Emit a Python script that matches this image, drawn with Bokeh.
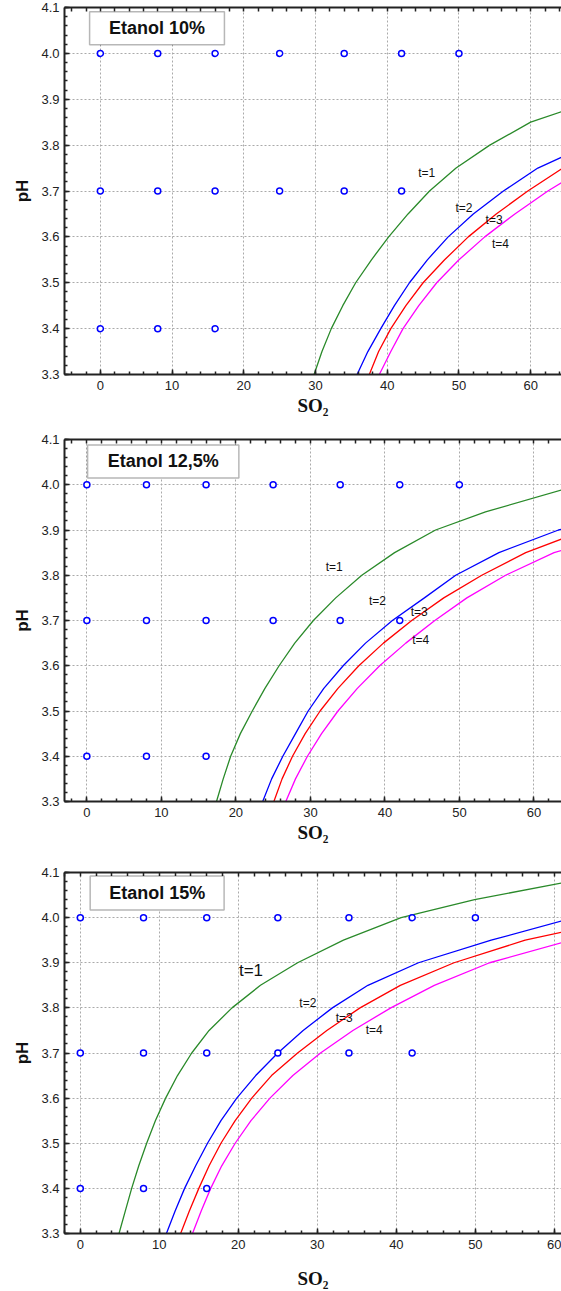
from bokeh.plotting import figure
from bokeh.layouts import column
from bokeh.models import (Range1d, FixedTicker, LinearAxis,
                          PrintfTickFormatter, BoxAnnotation, Label)
from bokeh.embed import file_html
from bokeh.resources import INLINE

# ---------------- data ----------------
titles = ["Etanol 10%", "Etanol 12,5%", "Etanol 15%"]
curve_names = ["t=1", "t=2", "t=3", "t=4"]
curve_colors = ["#2a8a2a", "#0000ff", "#ff0000", "#ff00ff"]

x_ticks = [0, 10, 20, 30, 40, 50, 60]
y_ticks = [3.3, 3.4, 3.5, 3.6, 3.7, 3.8, 3.9, 4.0, 4.1]

# experimental design points (SO2, pH)
pts_so2 = [0, 8, 16, 25, 34, 42, 50, 0, 8, 16, 25, 34, 42, 0, 8, 16]
pts_ph = [4.0, 4.0, 4.0, 4.0, 4.0, 4.0, 4.0, 3.7, 3.7, 3.7, 3.7, 3.7, 3.7, 3.4, 3.4, 3.4]

# Etanol 10 %
e10_t1_x = [29.8, 30.9, 32.2, 33.8, 35.6, 37.8, 40.2, 42.9, 45.9, 49.6, 54.3, 60.0, 64.5]
e10_t1_y = [3.30, 3.35, 3.40, 3.45, 3.50, 3.55, 3.60, 3.65, 3.70, 3.75, 3.80, 3.85, 3.874]
e10_t2_x = [35.8, 37.3, 39.1, 41.0, 43.1, 45.6, 48.5, 52.0, 56.2, 61.0, 64.5]
e10_t2_y = [3.30, 3.35, 3.40, 3.45, 3.50, 3.55, 3.60, 3.65, 3.70, 3.75, 3.775]
e10_t3_x = [37.5, 38.8, 40.5, 42.6, 45.0, 48.0, 51.3, 55.2, 59.6, 64.5]
e10_t3_y = [3.30, 3.35, 3.40, 3.45, 3.50, 3.55, 3.60, 3.65, 3.70, 3.75]
e10_t4_x = [38.9, 40.5, 42.2, 44.4, 46.9, 50.0, 53.6, 57.8, 62.4, 64.5]
e10_t4_y = [3.30, 3.35, 3.40, 3.45, 3.50, 3.55, 3.60, 3.65, 3.70, 3.72]

# Etanol 12,5 %
e125_t1_x = [17.4, 18.3, 19.3, 20.6, 22.2, 23.9, 25.8, 27.9, 30.4, 33.4, 36.9, 41.3, 46.8, 53.5, 64.0]
e125_t1_y = [3.30, 3.35, 3.40, 3.45, 3.50, 3.55, 3.60, 3.65, 3.70, 3.75, 3.80, 3.85, 3.90, 3.94, 3.99]
e125_t2_x = [23.6, 24.8, 26.3, 28.0, 29.7, 31.8, 34.4, 37.4, 41.0, 45.3, 49.5, 55.3, 63.3, 64.0]
e125_t2_y = [3.30, 3.35, 3.40, 3.45, 3.50, 3.55, 3.60, 3.65, 3.70, 3.75, 3.80, 3.85, 3.90, 3.903]
e125_t3_x = [25.1, 26.2, 27.6, 29.3, 31.3, 33.7, 36.5, 39.8, 43.6, 47.9, 53.0, 58.9, 64.0]
e125_t3_y = [3.30, 3.35, 3.40, 3.45, 3.50, 3.55, 3.60, 3.65, 3.70, 3.75, 3.80, 3.85, 3.882]
e125_t4_x = [26.7, 28.0, 29.6, 31.5, 33.7, 36.3, 39.3, 42.8, 46.7, 51.0, 56.2, 62.7, 64.0]
e125_t4_y = [3.30, 3.35, 3.40, 3.45, 3.50, 3.55, 3.60, 3.65, 3.70, 3.75, 3.80, 3.85, 3.856]

# Etanol 15 %
e15_t1_x = [4.9, 5.7, 6.5, 7.4, 8.4, 9.5, 10.8, 12.3, 14.1, 16.3, 19.2, 22.8, 27.5, 33.3, 40.6, 49.9, 61.0]
e15_t1_y = [3.30, 3.35, 3.40, 3.45, 3.50, 3.55, 3.60, 3.65, 3.70, 3.75, 3.80, 3.85, 3.90, 3.95, 4.00, 4.04, 4.077]
e15_t2_x = [10.9, 12.0, 13.2, 14.6, 16.1, 17.8, 19.8, 22.2, 25.0, 28.2, 31.9, 36.4, 42.8, 52.0, 61.0]
e15_t2_y = [3.30, 3.35, 3.40, 3.45, 3.50, 3.55, 3.60, 3.65, 3.70, 3.75, 3.80, 3.85, 3.90, 3.95, 3.993]
e15_t3_x = [12.7, 13.8, 15.0, 16.3, 17.8, 19.6, 21.7, 24.2, 27.5, 31.2, 35.4, 40.5, 47.3, 56.3, 61.0]
e15_t3_y = [3.30, 3.35, 3.40, 3.45, 3.50, 3.55, 3.60, 3.65, 3.70, 3.75, 3.80, 3.85, 3.90, 3.95, 3.968]
e15_t4_x = [14.2, 15.3, 16.5, 17.9, 19.6, 21.6, 24.0, 26.9, 30.4, 34.5, 39.3, 44.8, 51.8, 61.0]
e15_t4_y = [3.30, 3.35, 3.40, 3.45, 3.50, 3.55, 3.60, 3.65, 3.70, 3.75, 3.80, 3.85, 3.90, 3.945]

curves = [
    [(e10_t1_x, e10_t1_y), (e10_t2_x, e10_t2_y), (e10_t3_x, e10_t3_y), (e10_t4_x, e10_t4_y)],
    [(e125_t1_x, e125_t1_y), (e125_t2_x, e125_t2_y), (e125_t3_x, e125_t3_y), (e125_t4_x, e125_t4_y)],
    [(e15_t1_x, e15_t1_y), (e15_t2_x, e15_t2_y), (e15_t3_x, e15_t3_y), (e15_t4_x, e15_t4_y)],
]

# ---------------- layout / style ----------------
label_pos = [
    [(45.5, 3.739), (50.7, 3.664), (54.9, 3.637), (55.8, 3.585)],
    [(33.2, 3.818), (39.0, 3.742), (44.6, 3.718), (44.8, 3.658)],
    [(21.6, 3.883), (28.8, 3.81), (33.4, 3.778), (37.2, 3.75)],
]
label_sizes = [["12px"] * 4, ["12px"] * 4, ["17px", "12px", "12px", "12px"]]
title_box = [(-1.5, 17.3, 4.019, 4.091), (0.1, 20.4, 4.015, 4.088), (1.25, 18.2, 4.017, 4.092)]
x_ranges = [(-5, 64.3), (-3, 63.7), (-2, 60.9)]
heights = [420, 425, 446]
borders_top = [7, 19, 27]
borders_bottom = [46, 43, 58]
borders_left = [64, 64, 59]
xlabel_standoff = [2, 2, 16]

FONT = "Liberation Sans"
AXIS_COLOR = "#222222"
x_minor = [v for v in range(-4, 66, 2)]
y_minor = [round(3.3 + 0.02 * k, 2) for k in range(0, 41)]

figs = []
for i in range(3):
    p = figure(width=561, height=heights[i], output_backend="svg", toolbar_location=None,
               x_range=Range1d(*x_ranges[i]), y_range=Range1d(3.3, 4.1),
               min_border_left=borders_left[i], min_border_right=0,
               min_border_top=borders_top[i], min_border_bottom=borders_bottom[i])
    p.outline_line_color = None
    p.background_fill_color = "white"

    xt = FixedTicker(ticks=x_ticks, minor_ticks=x_minor)
    yt = FixedTicker(ticks=y_ticks, minor_ticks=y_minor)
    p.xaxis.ticker = xt
    p.yaxis.ticker = yt
    p.yaxis.formatter = PrintfTickFormatter(format="%.1f")
    p.xgrid.ticker = FixedTicker(ticks=x_ticks)
    p.ygrid.ticker = FixedTicker(ticks=y_ticks)
    for g in (p.xgrid, p.ygrid):
        g.grid_line_color = "#aaaaaa"
        g.grid_line_dash = "2 2"
        g.grid_line_width = 1

    for ax in (p.xaxis, p.yaxis):
        ax.axis_line_color = AXIS_COLOR
        ax.axis_line_width = 2
        ax.major_tick_in = 5
        ax.major_tick_out = 0
        ax.minor_tick_in = 3
        ax.minor_tick_out = 0
        ax.major_tick_line_color = AXIS_COLOR
        ax.minor_tick_line_color = AXIS_COLOR
        ax.major_tick_line_width = 1.5
        ax.minor_tick_line_width = 1.5
        ax.major_label_text_font = FONT
        ax.major_label_text_font_size = "13px"
        ax.major_label_text_color = "#222222"
        ax.axis_label_text_font_style = "bold"
        ax.axis_label_text_color = "#111111"
    p.xaxis.axis_label = "SO₂"
    p.xaxis.axis_label_text_font = "Liberation Serif"
    p.xaxis.axis_label_text_font_size = "19px"
    p.xaxis.major_label_standoff = 6
    p.xaxis.axis_label_standoff = xlabel_standoff[i]
    p.yaxis.axis_label = "pH"
    p.yaxis.axis_label_text_font = FONT
    p.yaxis.axis_label_text_font_size = "17px"
    p.yaxis.major_label_standoff = 5
    p.yaxis.axis_label_standoff = 6

    # top frame line with inward ticks (no labels)
    top = LinearAxis(ticker=FixedTicker(ticks=[], minor_ticks=x_minor),
                     axis_line_color=AXIS_COLOR, axis_line_width=2,
                     major_tick_in=0, major_tick_out=0, minor_tick_in=4, minor_tick_out=0,
                     minor_tick_line_color=AXIS_COLOR, minor_tick_line_width=1.5)
    p.add_layout(top, "above")

    for (cx, cy), col in zip(curves[i], curve_colors):
        p.line(cx, cy, line_color=col, line_width=1.3)

    p.scatter(pts_so2, pts_ph, marker="circle", size=6, line_color="#0000ff",
              fill_color="white", line_width=1.5)

    for (lx, ly), name, fs in zip(label_pos[i], curve_names, label_sizes[i]):
        p.add_layout(Label(x=lx, y=ly, text=name, text_font=FONT, text_font_size=fs,
                           text_align="center", text_baseline="middle", text_color="#111111"))

    l, r, b, t = title_box[i]
    p.add_layout(BoxAnnotation(left=l, right=r, bottom=b, top=t, fill_color="white",
                               fill_alpha=1.0, line_color="#111111", line_width=1.5))
    p.add_layout(Label(x=(l + r) / 2, y=(b + t) / 2, text=titles[i], text_font=FONT,
                       text_font_size="18px", text_font_style="bold",
                       text_align="center", text_baseline="middle", text_color="#111111"))
    figs.append(p)

layout = column(*figs, spacing=0)
open("out.html", "w").write(file_html(layout, INLINE))
